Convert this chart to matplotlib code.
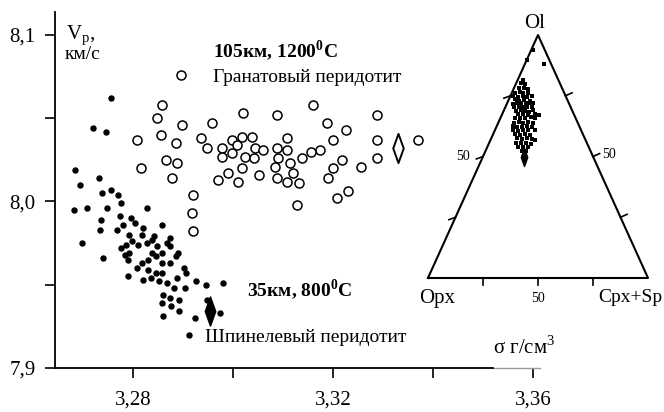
import numpy as np
import matplotlib.pyplot as plt
from matplotlib.path import Path

plt.rcParams['font.family'] = ['Liberation Serif', 'DejaVu Serif']
plt.rcParams['mathtext.fontset'] = 'custom'
plt.rcParams['mathtext.rm'] = 'Liberation Serif'
plt.rcParams['mathtext.bf'] = 'Liberation Serif:bold'

W, H = 664, 412

# garnet peridotite, 105 km / 1200 C: density (g/cm3) and Vp (km/s)
garnet_rho = [3.2896, 3.2858, 3.2848, 3.2898, 3.2856, 3.2808, 3.2886, 3.2816,
              3.2866, 3.2888, 3.2878, 3.2958, 3.2936, 3.2948, 3.3020, 3.2978,
              3.2978, 3.2998, 3.2998, 3.3018, 3.3008, 3.3038, 3.3044, 3.3024,
              3.3042, 3.3060, 3.2990, 3.2970, 3.3010, 3.3018, 3.3052, 3.3088,
              3.3160, 3.3108, 3.3088, 3.3108, 3.3090, 3.3084, 3.3114, 3.3120,
              3.3088, 3.3108, 3.3132, 3.3138, 3.3156, 3.3174, 3.3188, 3.3226,
              3.3200, 3.3288, 3.3288, 3.3288, 3.3370, 3.3218, 3.3200, 3.3256,
              3.3190, 3.3128, 3.3208, 3.3230, 3.2920, 3.2918, 3.2920]
garnet_vp = [8.076, 8.058, 8.050, 8.046, 8.040, 8.037, 8.035, 8.020,
             8.025, 8.023, 8.014, 8.047, 8.038, 8.032, 8.053, 8.032,
             8.027, 8.037, 8.029, 8.039, 8.034, 8.039, 8.032, 8.027,
             8.026, 8.031, 8.017, 8.013, 8.012, 8.020, 8.016, 8.052,
             8.058, 8.038, 8.032, 8.031, 8.026, 8.021, 8.023, 8.017,
             8.014, 8.012, 8.011, 8.026, 8.030, 8.031, 8.047, 8.043,
             8.037, 8.052, 8.037, 8.026, 8.037, 8.025, 8.020, 8.021,
             8.014, 7.998, 8.002, 8.006, 8.004, 7.993, 7.982]
garnet_mean = (3.3330, 8.032)

# spinel peridotite, 35 km / 800 C
spinel_rho = [3.2756, 3.2720, 3.2746, 3.2684, 3.2694, 3.2732, 3.2738, 3.2756,
              3.2770, 3.2682, 3.2708, 3.2748, 3.2776, 3.2828, 3.2736, 3.2774,
              3.2796, 3.2804, 3.2780, 3.2820, 3.2858, 3.2734, 3.2768, 3.2698,
              3.2740, 3.2792, 3.2798, 3.2786, 3.2776, 3.2792, 3.2784, 3.2790,
              3.2810, 3.2818, 3.2828, 3.2838, 3.2842, 3.2848, 3.2838, 3.2846,
              3.2858, 3.2874, 3.2868, 3.2874, 3.2886, 3.2890, 3.2818, 3.2808,
              3.2830, 3.2830, 3.2846, 3.2858, 3.2858, 3.2874, 3.2790, 3.2820,
              3.2836, 3.2852, 3.2868, 3.2882, 3.2888, 3.2902, 3.2906, 3.2904,
              3.2926, 3.2946, 3.2980, 3.2860, 3.2858, 3.2874, 3.2876, 3.2892,
              3.2892, 3.2860, 3.2924, 3.2912, 3.2974, 3.2948]
spinel_vp = [8.062, 8.044, 8.042, 8.019, 8.010, 8.014, 8.005, 8.007,
             8.004, 7.995, 7.996, 7.996, 7.999, 7.996, 7.989, 7.991,
             7.990, 7.987, 7.986, 7.984, 7.986, 7.983, 7.983, 7.975,
             7.966, 7.980, 7.976, 7.974, 7.972, 7.969, 7.968, 7.965,
             7.974, 7.980, 7.975, 7.977, 7.979, 7.973, 7.969, 7.967,
             7.969, 7.978, 7.975, 7.973, 7.967, 7.969, 7.963, 7.960,
             7.965, 7.959, 7.957, 7.957, 7.963, 7.963, 7.955, 7.953,
             7.954, 7.952, 7.951, 7.948, 7.954, 7.960, 7.957, 7.948,
             7.952, 7.950, 7.951, 7.944, 7.939, 7.942, 7.937, 7.941,
             7.934, 7.931, 7.930, 7.920, 7.933, 7.941]
spinel_mean = (3.2954, 7.934)

# modal composition of the spinel peridotites, % (Opx is the remainder)
modal_ol = [81.5, 80.1, 79.8, 78.1, 78.1, 77.8, 76.3, 76.7, 76.0, 76.3,
            74.9, 74.6, 74.9, 74.6, 74.9, 73.5, 73.0, 73.3, 73.0, 71.6,
            71.9, 71.9, 72.1, 71.9, 71.9, 70.2, 70.5, 70.2, 70.2, 70.5,
            68.8, 69.1, 68.8, 68.4, 69.1, 67.4, 67.5, 67.1, 67.5, 67.1,
            65.7, 66.0, 65.7, 66.1, 65.7, 63.9, 64.3, 63.9, 64.3, 63.9,
            62.6, 62.3, 62.3, 62.6, 62.3, 60.9, 60.6, 60.9, 60.9, 60.9,
            59.3, 58.8, 59.3, 58.8, 57.5, 57.1, 57.5, 57.1, 56.8, 55.4,
            55.4, 55.7, 55.1, 53.8, 54.0, 53.8, 52.4, 52.4, 93.8, 89.7, 88.1]
modal_cpx = [2.3, 2.3, 4.2, 2.5, 4.6, 6.7, 1.4, 3.5, 5.0, 7.5,
             1.4, 3.8, 5.9, 7.9, 9.7, 2.8, 5.0, 7.0, 9.9, 2.7,
             4.4, 6.2, 8.5, 10.5, 12.0, 4.0, 5.9, 7.9, 9.7, 11.9,
             5.6, 7.6, 9.7, 11.9, 13.4, 7.4, 9.6, 12.1, 14.9, 16.7,
             6.7, 8.8, 11.3, 13.7, 15.8, 7.2, 9.0, 11.4, 13.5, 15.7,
             7.2, 9.2, 11.5, 13.5, 16.0, 8.4, 10.8, 12.9, 15.2, 18.2,
             9.9, 12.4, 14.5, 17.0, 11.6, 14.1, 16.1, 18.6, 20.2, 12.3,
             14.4, 16.7, 19.2, 14.2, 16.3, 18.7, 16.4, 18.3, 0.8, 0.3, 8.7]
modal_mean = (49.6, 19.0)

# tall narrow diamond used for the mean values
diamond = Path([(0, 1), (0.36, 0), (0, -1), (-0.36, 0), (0, 1)],
               [Path.MOVETO, Path.LINETO, Path.LINETO, Path.LINETO, Path.CLOSEPOLY])


def fpos(x, y):
    return x / W, 1 - y / H


fig = plt.figure(figsize=(W / 100, H / 100), dpi=100)
ax = fig.add_axes([55 / W, 1 - 368 / H, (540 - 55) / W, (368 - 12) / H])

ax.plot(spinel_rho, spinel_vp, 'o', ms=3.6, color='black', mec='black')
ax.plot(garnet_rho, garnet_vp, 'o', ms=6.5, mfc='white', mec='black', mew=1.1)
ax.plot(*spinel_mean, marker=diamond, ms=21, color='black')
ax.plot(*garnet_mean, marker=diamond, ms=21, mfc='white', mec='black', mew=1.4)

ax.set_xlim(3.2644, 3.3614)
ax.set_ylim(7.9, 8.1138)
for s in ('top', 'right'):
    ax.spines[s].set_visible(False)
ax.spines['left'].set_linewidth(1.3)
ax.spines['bottom'].set_linewidth(1.3)
ax.spines['bottom'].set_bounds(3.2644, 3.352)
ax.plot([3.352, 3.3614], [7.9, 7.9], color='#9a9a9a', lw=1.0, clip_on=False)

ax.set_xticks([3.28, 3.30, 3.32, 3.34, 3.36])
ax.set_xticklabels(['3,28', '', '3,32', '', '3,36'])
ax.set_yticks([7.9, 8.0, 8.1])
ax.set_yticklabels(['7,9', '8,0', '8,1'])
ax.set_yticks([7.95, 8.05], minor=True)
ax.tick_params(axis='both', which='both', direction='out', length=7, width=1.2,
               labelsize=15)
ax.tick_params(axis='x', pad=9)
ax.tick_params(axis='y', pad=7)

fig.text(*fpos(66, 39), 'V$_\\mathregular{p}$,', fontsize=15)
fig.text(*fpos(65, 59), 'км/с', fontsize=14)
fig.text(*fpos(213, 58), '105км, 1200$^\\mathbf{0}$C', fontsize=14, fontweight='bold')
fig.text(*fpos(213, 82), 'Гранатовый перидотит', fontsize=14)
fig.text(*fpos(247, 297), '35км, 800$^\\mathbf{0}$C', fontsize=14, fontweight='bold')
fig.text(*fpos(205, 342), 'Шпинелевый перидотит', fontsize=14)
fig.text(*fpos(493, 354), 'σ г/см$^\\mathregular{3}$', fontsize=15)

# ternary Ol - Opx - (Cpx+Sp)
tern = fig.add_axes([428 / W, 1 - 278 / H, 220 / W, 243 / H])
tern.set_xlim(0, 1)
tern.set_ylim(0, 1)
tern.axis('off')
tern.patch.set_alpha(0)
tern.plot([0, 1, 0.5, 0], [0, 0, 1, 0], color='black', lw=1.5, clip_on=False)
for f in (0.25, 0.5, 0.75):
    tern.plot([f / 2, f / 2 - 0.03], [f, f - 0.01], color='black', lw=1.2, clip_on=False)
    tern.plot([1 - f / 2, 1 - f / 2 + 0.03], [f, f + 0.012], color='black', lw=1.2, clip_on=False)
    tern.plot([f, f], [0, -0.03], color='black', lw=1.2, clip_on=False)

ol = np.array(modal_ol) / 100
cpx = np.array(modal_cpx) / 100
tern.plot(cpx + ol / 2, ol, 's', ms=2.4, color='black', mew=0, clip_on=False)
tern.plot(modal_mean[1] / 100 + modal_mean[0] / 200, modal_mean[0] / 100,
          marker=diamond, ms=13, color='black')

fig.text(*fpos(535, 24), 'Ol', fontsize=15, ha='center', va='center')
fig.text(*fpos(437, 298), 'Opx', fontsize=15, ha='center', va='center')
fig.text(*fpos(662, 297), 'Cpx+Sp', fontsize=14, ha='right', va='center')
fig.text(*fpos(470, 156), '50', fontsize=10, ha='right', va='center')
fig.text(*fpos(602, 154), '50', fontsize=10, ha='left', va='center')
fig.text(*fpos(538, 299), '50', fontsize=10, ha='center', va='center')

fig.savefig('out.png', dpi=100)
